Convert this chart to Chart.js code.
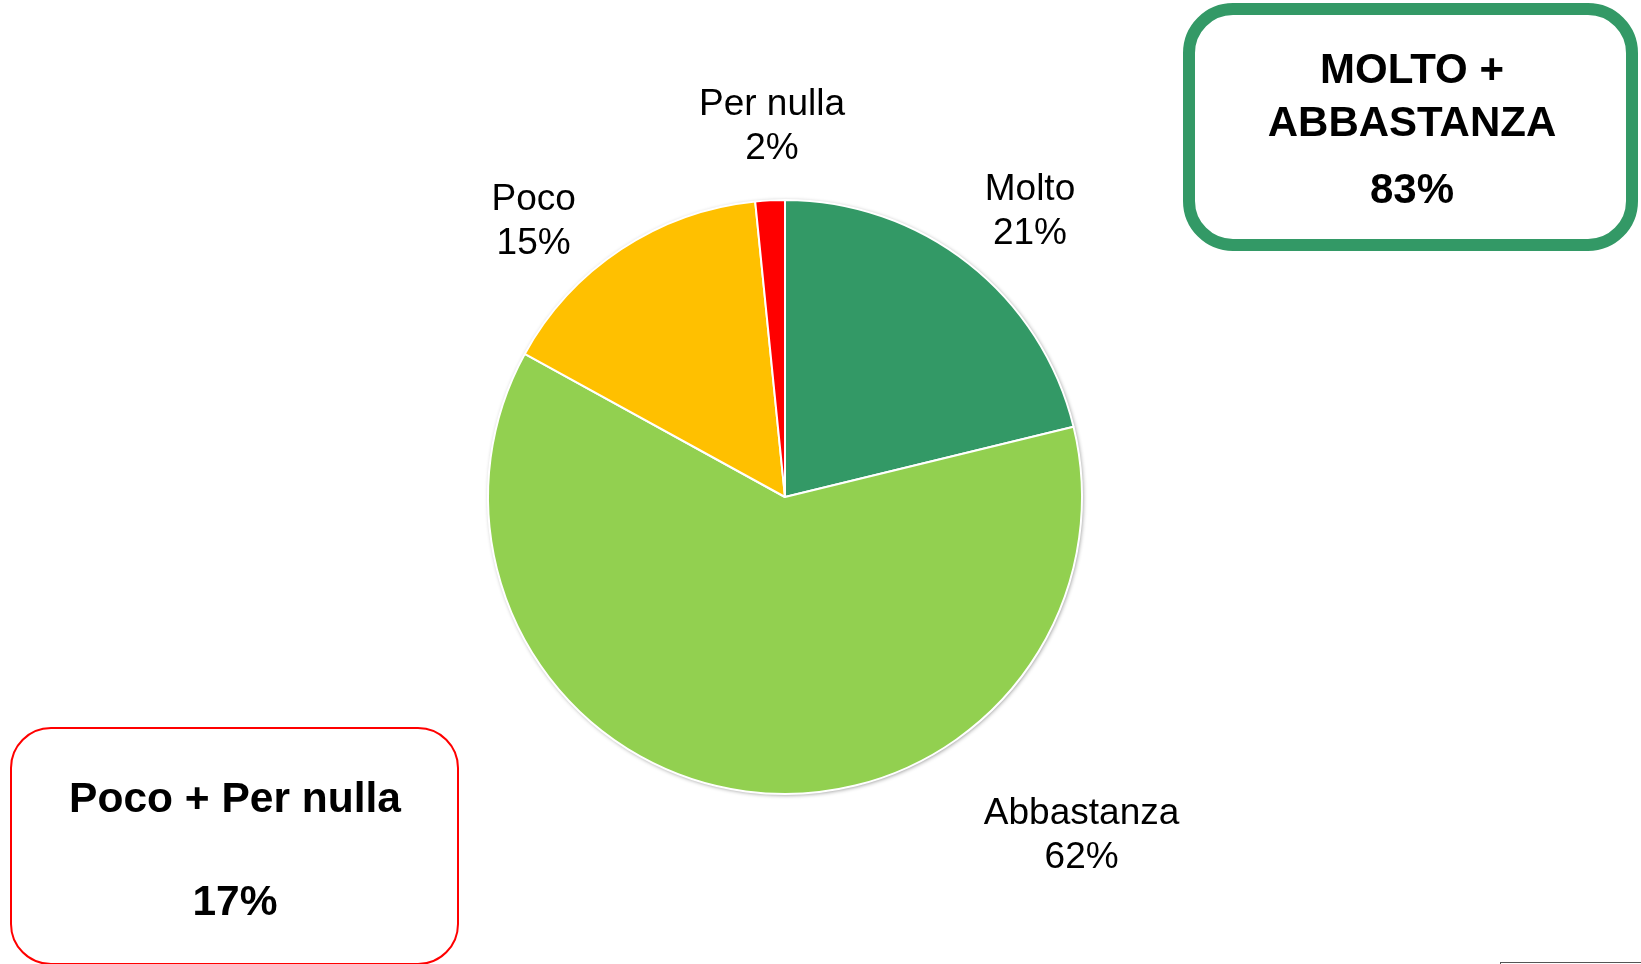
<!DOCTYPE html>
<html lang="it">
<head>
    <meta charset="UTF-8">
    <title>Molto / Abbastanza / Poco / Per nulla</title>
    <script src="https://cdn.jsdelivr.net/npm/chart.js@4"></script>
    <style>
        html, body { margin: 0; padding: 0; background: #fff; overflow: hidden; }
        #wrap { position: relative; width: 1641px; height: 964px; }
        #pageNo {
            position: absolute; left: 1500px; top: 962px; width: 160px; height: 40px;
            border-left: 1px solid #555; border-top: 1px solid #555;
        }
    </style>
</head>
<body>
    <div id="wrap">
        <canvas id="chart1" width="1641" height="964"></canvas>
        <div id="pageNo"></div>
    </div>

    <script>
        // dati
        const categories = ['Molto', 'Abbastanza', 'Poco', 'Per nulla'];
        const values = [21.2, 61.8, 15.4, 1.6];
        const colors = ['#339966', '#92D050', '#FFC000', '#FF0000'];

        // posizione etichette: angolo (gradi da ore 12) e distanza in raggi
        const labelAngle = [40.5, 138.6, 317.8, 358];
        const labelDist = [1.27, 1.51, 1.26, 1.255];

        const boxTop = ['MOLTO +', 'ABBASTANZA'];
        const boxTopValue = values[0] + values[1];
        const boxBottom = 'Poco + Per nulla';
        const boxBottomValue = values[2] + values[3];

        const FONT = '"Liberation Sans", Arial, sans-serif';

        function roundRect(ctx, x, y, w, h, r) {
            ctx.beginPath();
            ctx.moveTo(x + r, y);
            ctx.arcTo(x + w, y, x + w, y + h, r);
            ctx.arcTo(x + w, y + h, x, y + h, r);
            ctx.arcTo(x, y + h, x, y, r);
            ctx.arcTo(x, y, x + w, y, r);
            ctx.closePath();
        }

        // ombra sotto la torta
        const pieShadow = {
            id: 'pieShadow',
            beforeDatasetsDraw(chart) {
                const arc = chart.getDatasetMeta(0).data[0];
                if (!arc) return;
                const ctx = chart.ctx;
                ctx.save();
                ctx.shadowColor = 'rgba(0,0,0,0.45)';
                ctx.shadowBlur = 4;
                ctx.shadowOffsetX = 1;
                ctx.shadowOffsetY = 1;
                ctx.fillStyle = '#fff';
                ctx.beginPath();
                ctx.arc(arc.x, arc.y, arc.outerRadius, 0, Math.PI * 2);
                ctx.fill();
                ctx.restore();
            }
        };

        const sliceLabels = {
            id: 'sliceLabels',
            afterDatasetsDraw(chart) {
                const ctx = chart.ctx;
                const meta = chart.getDatasetMeta(0);
                ctx.save();
                ctx.font = '37px ' + FONT;
                ctx.fillStyle = '#000';
                ctx.textAlign = 'center';
                ctx.textBaseline = 'middle';
                meta.data.forEach((arc, i) => {
                    const a = labelAngle[i] * Math.PI / 180;
                    const d = arc.outerRadius * labelDist[i];
                    const x = arc.x + Math.sin(a) * d;
                    const y = arc.y - Math.cos(a) * d + 2;
                    ctx.fillText(categories[i], x, y - 22);
                    ctx.fillText(Math.round(values[i]) + '%', x, y + 22);
                });
                ctx.restore();
            }
        };

        const summaryBoxes = {
            id: 'summaryBoxes',
            afterDraw(chart) {
                const ctx = chart.ctx;
                ctx.save();
                ctx.textAlign = 'center';
                ctx.textBaseline = 'alphabetic';
                ctx.fillStyle = '#000';

                // box verde
                ctx.lineWidth = 12;
                ctx.strokeStyle = '#339966';
                roundRect(ctx, 1189, 9, 443, 236, 44);
                ctx.stroke();
                ctx.font = 'bold 42px ' + FONT;
                ctx.fillText(boxTop[0], 1412, 83);
                ctx.fillText(boxTop[1], 1412, 136);
                ctx.fillText(Math.round(boxTopValue) + '%', 1412, 203);

                // box rosso
                ctx.lineWidth = 2;
                ctx.strokeStyle = '#FF0000';
                roundRect(ctx, 11, 728, 447, 236, 40);
                ctx.stroke();
                ctx.font = 'bold 42.5px ' + FONT;
                ctx.fillText(boxBottom, 235, 812);
                ctx.fillText(Math.round(boxBottomValue) + '%', 235, 915);
                ctx.restore();
            }
        };

        const ctx1 = document.getElementById('chart1').getContext('2d');
        const chart1 = new Chart(ctx1, {
            type: 'pie',
            data: {
                labels: categories,
                datasets: [{
                    data: values,
                    backgroundColor: colors,
                    borderColor: '#ffffff',
                    borderWidth: 2,
                    hoverOffset: 0
                }]
            },
            options: {
                responsive: false,
                animation: false,
                events: [],
                layout: { padding: { left: 487, right: 558, top: 199, bottom: 169 } },
                plugins: {
                    legend: { display: false },
                    tooltip: { enabled: false }
                }
            },
            plugins: [pieShadow, sliceLabels, summaryBoxes]
        });
    </script>
</body>
</html>
